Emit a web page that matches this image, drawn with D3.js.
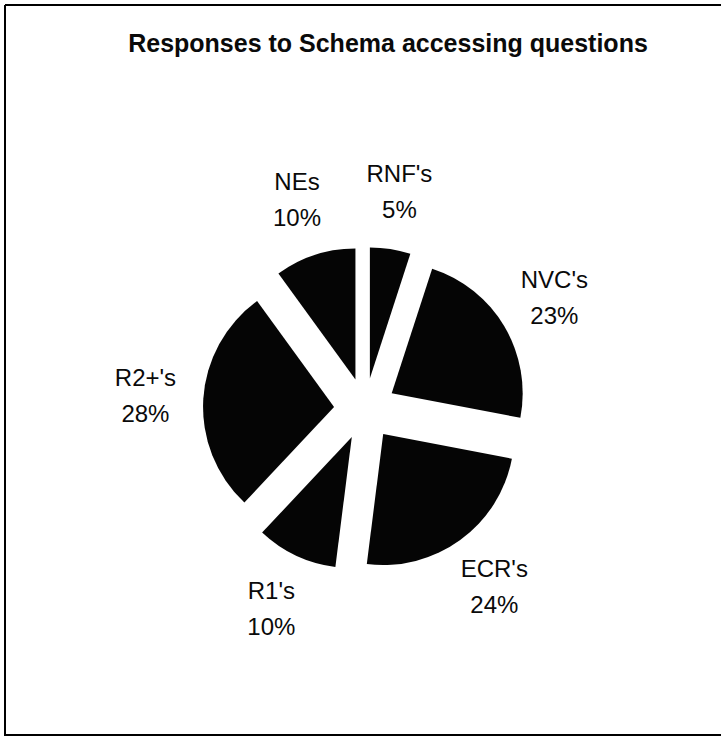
<html lang="en">
<head>
<meta charset="utf-8">
<title>Responses to Schema accessing questions</title>
<script src="https://d3js.org/d3.v7.min.js"></script>
<style>
  body { margin: 0; background: #fff; }
  text { font-family: "Liberation Sans", Arial, sans-serif; fill: #0a0a0a; }
</style>
</head>
<body>
<script>
// data (clockwise from 12 o'clock)
var categories = ["RNF's", "NVC's", "ECR's", "R1's", "R2+'s", "NEs"];
var percents = [5, 23, 24, 10, 28, 10];

var w = 721, h = 738;
var cx = 365, cy = 409;   // pie centre
var radius = 131;
var explode = 31;
var labelR = 220;

var svg = d3.select("body").append("svg")
  .attr("width", w)
  .attr("height", h);

// frame (scanned: left, top and bottom edges visible)
var frame = svg.append("g").attr("stroke", "#000").attr("stroke-width", 2);
frame.append("line").attr("x1", 5).attr("y1", 5).attr("x2", 721).attr("y2", 5);
frame.append("line").attr("x1", 5).attr("y1", 735).attr("x2", 721).attr("y2", 735);
frame.append("line").attr("x1", 5).attr("y1", 5).attr("x2", 5).attr("y2", 736);

// title
svg.append("text")
  .attr("x", 388)
  .attr("y", 52)
  .attr("text-anchor", "middle")
  .attr("font-size", "25px")
  .attr("font-weight", "bold")
  .text("Responses to Schema accessing questions");

var pie = d3.pie().sort(null).value(function(d) { return d; });
var arcs = pie(percents);

var arc = d3.arc().innerRadius(0).outerRadius(radius);

var g = svg.append("g").attr("transform", "translate(" + cx + "," + cy + ")");

function mid(d) { return (d.startAngle + d.endAngle) / 2; }

g.selectAll("path")
  .data(arcs)
  .enter()
  .append("path")
  .attr("d", arc)
  .attr("fill", "#050505")
  .attr("transform", function(d) {
    var a = mid(d);
    return "translate(" + (explode * Math.sin(a)) + "," + (-explode * Math.cos(a)) + ")";
  });

// labels: name and percent, two lines, centred on the slice's mid angle
var labels = g.selectAll("text.lbl")
  .data(arcs)
  .enter()
  .append("text")
  .attr("class", "lbl")
  .attr("text-anchor", "middle")
  .attr("font-size", "24px")
  .attr("transform", function(d) {
    var a = mid(d);
    return "translate(" + (labelR * Math.sin(a)) + "," + (-labelR * Math.cos(a)) + ")";
  });

labels.append("tspan")
  .attr("x", 0)
  .attr("y", -9.5)
  .text(function(d, i) { return categories[i]; });

labels.append("tspan")
  .attr("x", 0)
  .attr("y", 26.5)
  .text(function(d) { return d.data + "%"; });
</script>
</body>
</html>
